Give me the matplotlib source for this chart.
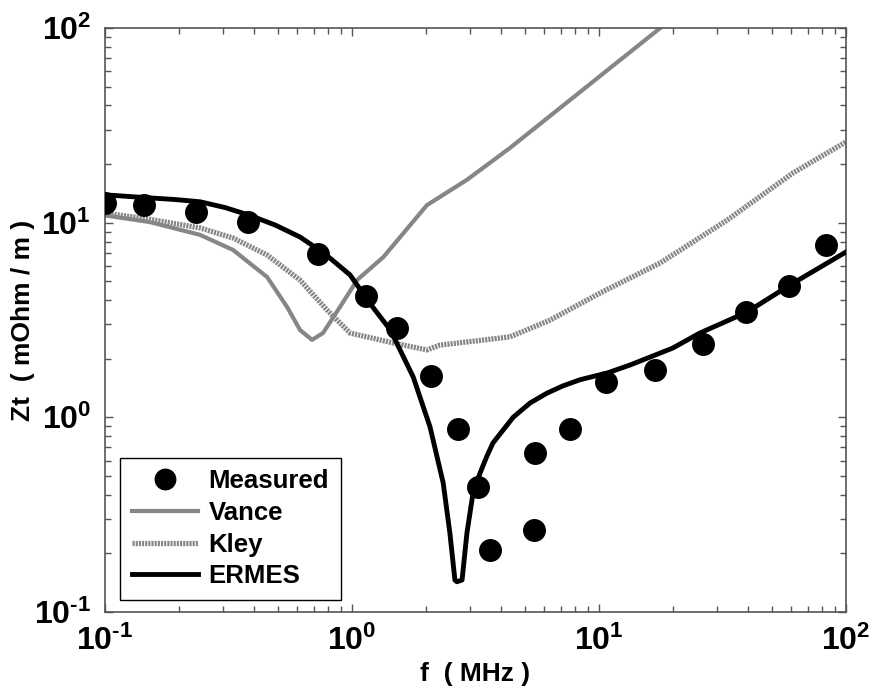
import numpy as np
import matplotlib
matplotlib.use("Agg")
import matplotlib.pyplot as plt
from matplotlib.ticker import FuncFormatter, LogLocator

plt.rcParams['font.family'] = ['Liberation Sans', 'DejaVu Sans']
plt.rcParams['font.weight'] = 'bold'
plt.rcParams['mathtext.fontset'] = 'custom'
plt.rcParams['mathtext.rm'] = 'Liberation Sans:bold'
plt.rcParams['mathtext.bf'] = 'Liberation Sans:bold'

# Measured transfer impedance
meas_f = [0.1, 0.144, 0.233, 0.379, 0.728, 1.14, 1.52, 2.09, 2.69, 3.24, 3.62,
          5.51, 5.46, 7.63, 10.7, 16.9, 26.4, 39.4, 58.7, 83.0]
meas_z = [12.6, 12.3, 11.3, 10.1, 6.9, 4.2, 2.88, 1.63, 0.871, 0.439, 0.208,
          0.656, 0.264, 0.871, 1.52, 1.75, 2.38, 3.48, 4.73, 7.68]

# Vance model
vance_f = [0.1, 0.152, 0.243, 0.330, 0.453, 0.546, 0.616, 0.689, 0.763, 0.894,
           1.05, 1.34, 2.01, 2.92, 4.36, 6.95, 17.7]
vance_z = [10.9, 10.07, 8.65, 7.24, 5.26, 3.69, 2.81, 2.50, 2.71, 3.69,
           5.08, 6.66, 12.3, 16.6, 24.2, 38.8, 100.0]

# Kley model
kley_f = [0.1, 0.152, 0.243, 0.330, 0.453, 0.616, 0.792, 0.982, 1.47, 2.01,
          2.27, 2.92, 4.36, 6.34, 10.1, 17.7, 33.0, 61.0, 100.0]
kley_z = [11.2, 10.4, 9.39, 8.34, 6.82, 5.07, 3.56, 2.71, 2.41, 2.22,
          2.35, 2.44, 2.59, 3.16, 4.35, 6.21, 10.3, 18.0, 26.0]

# ERMES simulation
ermes_f = [0.1, 0.152, 0.192, 0.243, 0.306, 0.386, 0.488, 0.616, 0.778, 0.982,
           1.18, 1.43, 1.77, 2.07, 2.34, 2.49, 2.61, 2.66, 2.79, 2.92,
           3.09, 3.30, 3.51, 3.72, 4.49, 5.26, 6.15, 7.14, 8.38, 10.8, 13.4,
           16.1, 19.9, 25.6, 39.7, 59.3, 100.0]
ermes_z = [13.9, 13.4, 13.15, 12.8, 11.96, 10.9, 9.73, 8.44, 6.90, 5.39,
           3.86, 2.81, 1.61, 0.892, 0.460, 0.255, 0.146, 0.143, 0.146, 0.255,
           0.408, 0.518, 0.628, 0.738, 1.0, 1.185, 1.33, 1.45, 1.56, 1.69, 1.86,
           2.04, 2.27, 2.71, 3.47, 4.78, 7.07]

gray = '#868686'
frame = '#555555'

fig = plt.figure(figsize=(8.7, 6.93), dpi=100)
ax = fig.add_axes([105 / 870, 1 - 612 / 693, 741 / 870, 584 / 693])

ax.plot(vance_f, vance_z, color=gray, lw=3.0, label='Vance', zorder=2)
ax.plot(kley_f, kley_z, color=gray, lw=3.8, linestyle=(0, (0.4, 0.2)),
        label='Kley', zorder=2)
ax.plot(ermes_f, ermes_z, color='black', lw=3.5, label='ERMES', zorder=3)
ax.plot(meas_f, meas_z, 'o', color='black', ms=15.5, label='Measured', zorder=4)

ax.set_xscale('log')
ax.set_yscale('log')
ax.set_xlim(0.1, 100)
ax.set_ylim(0.1, 100)


def dec_label(v, pos):
    e = int(round(np.log10(v)))
    s = str(e).replace('-', '\u2010')
    return r'$\mathbf{10^{%s}}$' % s


ax.xaxis.set_major_locator(LogLocator(base=10, numticks=10))
ax.yaxis.set_major_locator(LogLocator(base=10, numticks=10))
ax.xaxis.set_major_formatter(FuncFormatter(dec_label))
ax.yaxis.set_major_formatter(FuncFormatter(dec_label))
ax.tick_params(which='both', direction='in', top=True, right=True,
               color=frame, labelsize=23, width=1)
ax.tick_params(which='major', length=6)
ax.tick_params(axis='x', which='major', pad=10)
ax.tick_params(axis='y', which='major', pad=10)
ax.tick_params(which='minor', length=4)
for s in ax.spines.values():
    s.set_color(frame)
    s.set_linewidth(1.2)

ax.set_xlabel('f  ( MHz )', fontsize=19, fontweight='bold')
ax.set_ylabel('Zt  ( mOhm / m )', fontsize=19, fontweight='bold')
ax.xaxis.set_label_coords(0.5, -0.085)
ax.yaxis.set_label_coords(-0.094, 0.5)

h, l = ax.get_legend_handles_labels()
order = [3, 0, 1, 2]
leg = ax.legend([h[i] for i in order], [l[i] for i in order], loc='lower left',
                bbox_to_anchor=(15 / 741, 12 / 584), prop={'size': 18.5, 'weight': 'bold'},
                frameon=True, fancybox=False, edgecolor='black', framealpha=1,
                handlelength=2.6, handletextpad=0.4, labelspacing=0.3,
                borderaxespad=0, borderpad=0.45, markerscale=0.95)
leg.get_frame().set_linewidth(1.0)

fig.savefig('out.png', dpi=100)
